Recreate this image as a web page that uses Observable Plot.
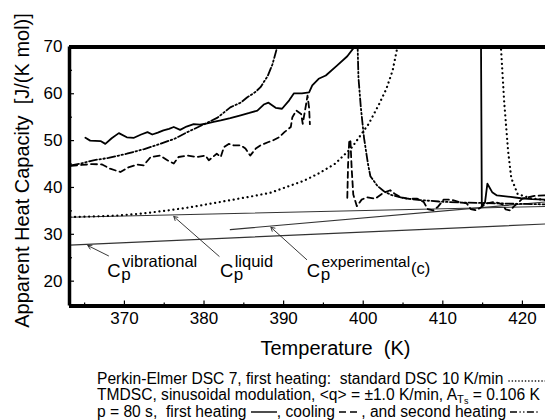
<!DOCTYPE html>
<html><head><meta charset="utf-8">
<script src="https://cdn.jsdelivr.net/npm/d3@7"></script>
<script src="https://cdn.jsdelivr.net/npm/@observablehq/plot@0.6"></script>
<style>
body{margin:0;background:#fff;}
#chart{width:545px;height:362px;}
.cap{font-family:"Liberation Sans",Arial,sans-serif;font-size:15.6px;margin-left:97px;margin-top:9px;line-height:16.3px;color:#000;white-space:nowrap;}
.cap sub{font-size:0.72em;vertical-align:-0.2em;line-height:0;}
.cap sub sub{font-size:0.8em;vertical-align:-0.1em;}
.cap svg{vertical-align:middle;}
</style></head><body>
<div id="chart"></div>
<div class="cap">
<div>Perkin-Elmer DSC 7, first heating:&nbsp; standard DSC 10 K/min <svg width="40" height="8"><line x1="1" y1="5" x2="39" y2="5" stroke="#000" stroke-width="1.6" stroke-dasharray="0.1,3.2" stroke-linecap="round"/></svg></div>
<div>TMDSC, sinusoidal modulation, &lt;q&gt; = ±1.0 K/min, A<sub>T<sub>s</sub></sub> = 0.106 K</div>
<div>p = 80 s,&nbsp; first heating <svg width="26" height="8"><line x1="0" y1="4" x2="26" y2="4" stroke="#000" stroke-width="1.4"/></svg>, cooling <svg width="22" height="8"><line x1="0" y1="4" x2="22" y2="4" stroke="#000" stroke-width="1.4" stroke-dasharray="7,4"/></svg>, and second heating <svg width="28" height="8"><line x1="0" y1="4" x2="28" y2="4" stroke="#000" stroke-width="1.4" stroke-dasharray="7,2.5,1.2,2.5,1.2,2.5"/></svg></div>
</div>
<script>
// ---- axis ticks ----
const xMajor = [370, 380, 390, 400, 410, 420];
const xMinor = [365, 375, 385, 395, 405, 415];
const yMajor = [20, 30, 40, 50, 60, 70];
const yMinor = [25, 35, 45, 55, 65];

// ---- first heating TMDSC (solid); 75 = off scale ----
const heat1T  = [365.1,365.7,367.0,367.6,368.4,369.3,370.3,371.2,372.1,372.9,373.5,374.2,374.9,375.6,376.2,377.0,377.8,378.7,379.5,380.4,381.2,382.1,383.3,384.6,385.7,386.7,387.5,388.1,389.0,389.8,390.7,391.3,392.3,393.2,393.6,394.4,395.3,396.7,398.0,398.9,399.4,414.7,414.8,414.9,415.3,415.6,416.2,416.8,418.5,419.8,421.2,422.9];
const heat1Cp = [50.6,50.0,49.9,49.3,50.5,51.6,50.7,50.6,51.3,51.8,51.3,51.7,52.2,52.5,52.9,52.3,53.0,53.5,53.4,53.7,54.0,54.3,54.8,55.4,55.9,56.4,57.7,58.1,57.0,56.8,58.6,60.1,60.1,60.3,61.8,63.2,63.9,66.0,68.0,70.0,75,75,70,36.0,36.8,40.8,39.0,38.3,38.0,37.7,37.5,37.4];

// ---- cooling TMDSC (dashed); null = gap ----
const coolT  = [363.3,364.6,366.0,367.2,368.2,369.5,370.5,371.6,372.4,373.3,374.5,375.4,376.2,376.8,377.9,379.1,380.2,380.6,381.6,382.1,382.5,383.1,383.7,384.6,385.2,385.8,386.5,387.1,388.1,388.6,389.4,390.1,390.9,391.1,391.6,392.2,392.4,392.8,393.0,393.2,393.3,395.0,
                398.0,398.1,398.25,398.4,398.55,398.75,399.2,399.8,400.5,401.5,402.5,403.4,404.0,404.7,405.6,406.8,407.6,408.1,408.8,409.4,410.1,411.0,412.0,413.0,413.5,414.2,414.8,415.5,416.5,417.5,417.9,418.5,418.9,420.0,421.5,422.9];
const coolCp = [44.6,44.8,45.0,44.9,44.0,43.3,44.3,44.9,44.7,46.5,46.8,45.8,45.1,46.5,46.8,46.5,46.8,45.8,47.2,46.5,48.6,49.3,49.0,49.0,48.3,46.8,48.3,49.0,49.7,50.0,50.7,51.8,52.9,55.0,56.4,55.7,53.6,57.5,59.6,57.0,53.5,null,
                37.8,45.0,50.2,49.8,44.0,38.5,36.0,37.4,37.9,37.6,38.8,39.4,38.6,37.9,37.6,37.6,36.9,35.4,35.1,35.9,37.4,37.4,36.9,36.6,35.4,35.1,35.8,36.6,36.9,36.4,35.3,35.1,35.9,37.6,38.2,38.3];

// ---- second heating TMDSC (dash-dot-dot) ----
const heat2T  = [363.3,364.5,366.1,368.0,370.3,372.5,374.5,376.3,377.9,379.9,381.7,383.3,384.6,385.4,386.4,387.1,388.0,388.6,389.2,389.6,399.0,399.3,399.4,399.7,400.1,400.6,400.9,401.8,402.6,403.5,405.1,407.2,409.5,412.0,414.5,417.0,419.5,422.9];
const heat2Cp = [44.7,45.1,45.8,46.3,47.2,48.2,49.3,50.4,51.8,53.4,54.9,57.1,58.1,59.2,60.3,61.4,63.8,66.3,70.0,75,75,70.0,63.5,57.1,50.6,45.0,42.4,40.3,39.2,38.4,37.7,37.3,37.0,36.8,36.7,36.6,36.5,36.4];

// ---- standard DSC 10 K/min (dotted) ----
const dscT  = [363.2,366.0,369.0,372.0,375.0,378.0,381.0,384.0,386.3,388.4,390.2,392.5,394.4,396.5,398.6,400.7,402.0,402.9,403.7,404.3,404.8,416.9,417.3,417.7,418.2,418.6,419.4,421.0,422.9];
const dscCp = [33.7,33.8,34.0,34.4,35.0,35.7,36.6,37.5,38.2,38.9,40.0,41.4,43.0,45.1,48.6,53.6,57.8,61.0,65.0,70.0,75,75,70.0,58.5,47.8,42.0,38.6,37.7,37.3];

// ---- reference lines ----
const vibT = [363.1, 422.9], vibCp = [27.7, 32.2];
const liqT = [363.1, 422.9], liqCp = [33.65, 35.95];
const expT = [383.3, 422.9], expCp = [31.0, 36.9];

const font = "Liberation Sans, Arial, Helvetica, sans-serif";
const xDom = [363.1, 422.9], yDom = [14.7, 70];
const ln = (X, Y, opts) => Plot.line(X.map((x, i) => [x, Y[i]]), {x: d => d[0], y: d => d[1], clip: true, ...opts});
const lbl = (s, x, y, size) => Plot.text([s], {x: [x], y: [y], text: d => d, textAnchor: "start", lineAnchor: "bottom", fontSize: size});

const chart = Plot.plot({
  width: 545, height: 362,
  marginLeft: 69, marginRight: 0, marginTop: 46.4, marginBottom: 56.5,
  x: {domain: xDom},
  y: {domain: yDom},
  style: {fontFamily: font, fontSize: "17px", color: "#000", background: "#fff", overflow: "visible"},
  marks: [
    ln(vibT, vibCp, {stroke: "#333", strokeWidth: 1.1}),
    ln(liqT, liqCp, {stroke: "#333", strokeWidth: 1.1}),
    ln(expT, expCp, {stroke: "#333", strokeWidth: 1.1}),
    ln(dscT, dscCp, {stroke: "#000", strokeWidth: 2.2, strokeDasharray: "0.1,4.6", strokeLinecap: "round"}),
    ln(heat2T, heat2Cp, {stroke: "#000", strokeWidth: 1.8, strokeDasharray: "8,2.5,1.5,2.5,1.5,2.5"}),
    ln(coolT, coolCp, {stroke: "#000", strokeWidth: 1.8, strokeDasharray: "6,4"}),
    ln(heat1T, heat1Cp, {stroke: "#000", strokeWidth: 1.8}),
    Plot.arrow([0], {x1: [368.0], y1: [25.4], x2: [365.4], y2: [27.6], stroke: "#222", strokeWidth: 0.9, headLength: 7}),
    Plot.arrow([0], {x1: [381.9], y1: [25.3], x2: [376.2], y2: [33.8], stroke: "#222", strokeWidth: 0.9, headLength: 7}),
    Plot.arrow([0], {x1: [392.9], y1: [24.6], x2: [388.4], y2: [31.5], stroke: "#222", strokeWidth: 0.9, headLength: 7}),
    lbl("C", 367.85, 20.83, 18.5),
    lbl("p", 369.6, 20.2, 17),
    lbl("vibrational", 369.7, 23.1, 16.5),
    lbl("C", 382.0, 20.83, 18.5),
    lbl("p", 383.75, 20.2, 17),
    lbl("liquid", 383.85, 23.1, 16.5),
    lbl("C", 392.9, 20.83, 18.5),
    lbl("p", 394.65, 20.2, 17),
    lbl("experimental", 394.75, 23.1, 15.5),
    lbl("(c)", 406.0, 21.6, 16.5),
    Plot.ruleY([70], {stroke: "#000", strokeWidth: 4}),
    Plot.ruleY([yDom[0]], {stroke: "#000", strokeWidth: 4}),
    Plot.ruleX([xDom[0]], {stroke: "#000", strokeWidth: 3.5}),
    Plot.axisX(xMajor, {tickSize: -5, tickPadding: 11, label: null, fontSize: 17, strokeWidth: 1.2}),
    Plot.axisX(xMinor, {tickSize: -3, tickFormat: () => "", label: null, strokeWidth: 1.2}),
    Plot.axisY(yMajor, {tickSize: -5, tickPadding: 12, label: null, fontSize: 17, strokeWidth: 1.2}),
    Plot.axisY(yMinor, {tickSize: -3, tickFormat: () => "", label: null, strokeWidth: 1.2}),
    Plot.text(["Temperature\u00a0 (K)"], {frameAnchor: "bottom", dx: 28, dy: 49, lineAnchor: "bottom", fontSize: 20}),
    Plot.text(["Apparent Heat Capacity\u00a0 [J/(K mol)]"], {frameAnchor: "left", rotate: -90, textAnchor: "middle", dx: -41, dy: -6, lineAnchor: "bottom", fontSize: 20})
  ]
});
document.getElementById("chart").appendChild(chart);
</script>
</body></html>
